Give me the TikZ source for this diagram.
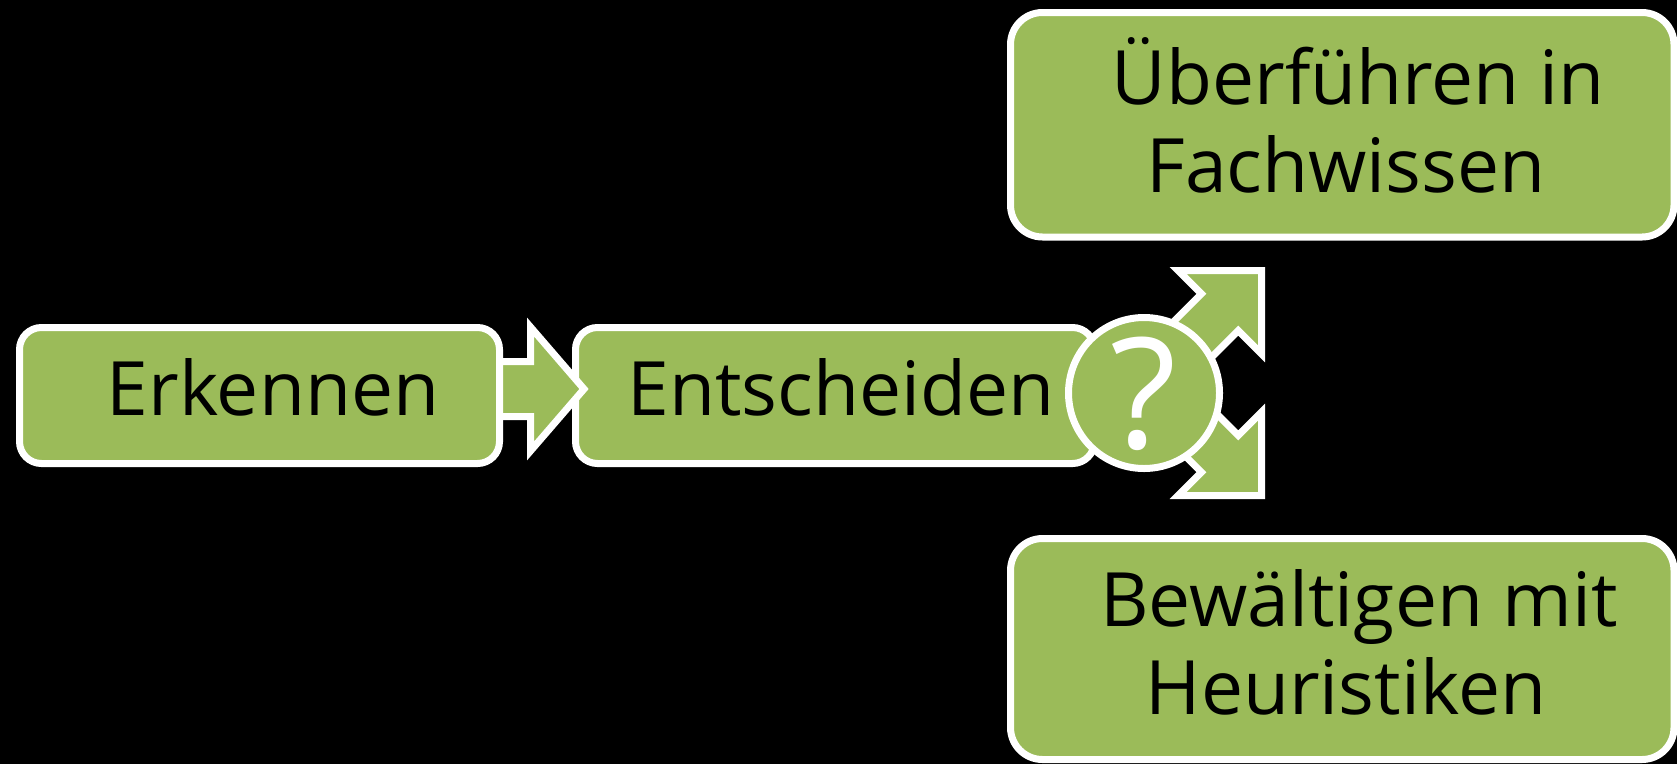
\documentclass[tikz,border=0pt]{standalone}
\usepackage{fontspec}
\setmainfont{Open Sans}
\definecolor{boxgreen}{HTML}{9BBB59}
\begin{document}
\begin{tikzpicture}[x=1pt,y=-1pt,
  stepbox/.style={draw=white, line width=7pt, fill=boxgreen, rounded corners=22pt, inner sep=0pt, outer sep=0pt},
  bigbox/.style={stepbox, rounded corners=32pt},
  blockarrow/.style={draw=white, line width=7pt, fill=boxgreen, line join=miter},
  lbl/.style={font=\fontsize{75}{89}\selectfont, text=black, inner sep=0pt, anchor=base},
  qmark/.style={font=\fontsize{154}{154}\selectfont, text=white, inner sep=0pt, anchor=base}]
\fill[black] (0,0) rectangle (1677,764);
\useasboundingbox (0,0) rectangle (1677,764);
% step boxes
\node[stepbox, minimum width=519pt, minimum height=136pt] (ent) at (835,395.5) {};
\draw[blockarrow] (490,361.5) -- (530.5,361.5) -- (530.5,327) -- (584,389) -- (530.5,451) -- (530.5,416.5) -- (490,416.5) -- cycle;
\node[stepbox, minimum width=480pt, minimum height=136pt] (erk) at (259.5,395.5) {};
% outcome boxes
\node[bigbox, minimum width=663.5pt, minimum height=224.5pt] (ueb) at (1342.25,124.75) {};
\node[bigbox, minimum width=663.5pt, minimum height=221pt] (bew) at (1342.25,649) {};
% diverging arrows
\draw[blockarrow] (1125.7,369.5) -- (1201.4,293.8) -- (1178.1,270.5) -- (1261.5,270.5) -- (1261.5,353.9) -- (1238.2,330.6) -- (1162.5,406.3) -- cycle;
\draw[blockarrow] (1125.7,396.5) -- (1201.4,472.2) -- (1178.1,495.5) -- (1261.5,495.5) -- (1261.5,412.1) -- (1238.2,435.4) -- (1162.5,359.7) -- cycle;
% labels
\node[lbl] (erkT) at (273,415) {Erkennen};
\node[lbl] (entT) at (841,415) {Entscheiden};
\node[lbl] (uebT1) at (1358,104) {Überführen in};
\node[lbl] (uebT2) at (1346,192.5) {Fachwissen};
\node[lbl] (bewT1) at (1359,626) {Bewältigen mit};
\node[lbl] (bewT2) at (1346,714) {Heuristiken};
% question circle
\node[circle, draw=white, line width=7pt, fill=boxgreen, minimum size=151pt, inner sep=0pt] (q) at (1144,393) {};
\node[qmark] (qT) at (1144,448) {?};
\end{tikzpicture}
\end{document}
